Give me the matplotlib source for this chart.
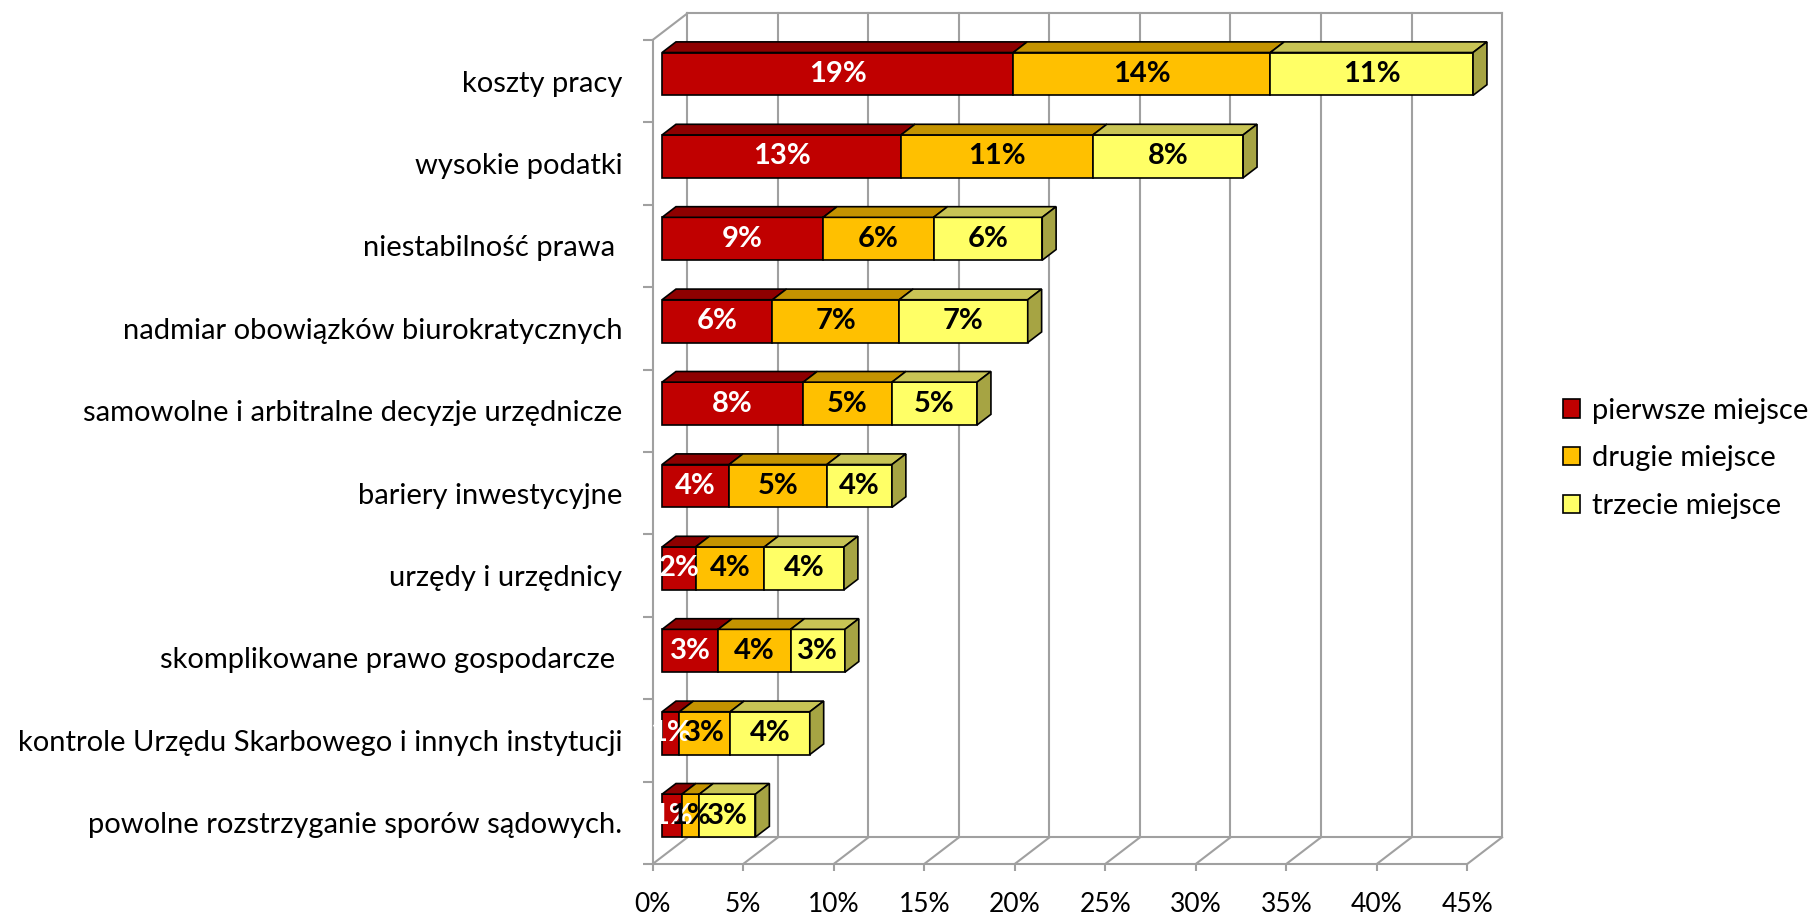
import numpy as np
import matplotlib.pyplot as plt
from matplotlib.patches import Patch

plt.rcParams['font.family'] = ['Lato', 'DejaVu Sans']

# categories from top to bottom
categories = [
    "koszty pracy",
    "wysokie podatki",
    "niestabilność prawa ",
    "nadmiar obowiązków biurokratycznych",
    "samowolne i arbitralne decyzje urzędnicze",
    "bariery inwestycyjne",
    "urzędy i urzędnicy",
    "skomplikowane prawo gospodarcze ",
    "kontrole Urzędu Skarbowego i innych instytucji",
    "powolne rozstrzyganie sporów sądowych.",
]
pierwsze = [19.4, 13.2, 8.9, 6.1, 7.8, 3.7, 1.85, 3.1, 0.96, 1.1]
drugie   = [14.2, 10.6, 6.1, 7.0, 4.9, 5.4, 3.8, 4.0, 2.8, 0.96]
trzecie  = [11.2, 8.3, 6.0, 7.1, 4.7, 3.6, 4.4, 3.0, 4.4, 3.1]
series_names = ["pierwsze miejsce", "drugie miejsce", "trzecie miejsce"]
x_ticks = [0, 5, 10, 15, 20, 25, 30, 35, 40, 45]

front_cols = ['#C00000', '#FFC000', '#FFFF66']
top_cols = ['#8E0000', '#C49300', '#C8C455']
side_col = '#A6A443'
label_cols = ['white', 'black', 'black']
grid_col = '#A0A0A0'

# oblique depth of the 3d box (in % and category units)
DX, DY = 1.92, 0.323
d1, d2 = 0.27, 0.67      # bar front / back depth fraction
half_h = 0.26

fig = plt.figure(figsize=(18.11, 9.16), dpi=100)
ax = fig.add_axes([0.3604, 0.0568, 0.4498, 0.8996])
ax.set_xlim(0, 45)
ax.set_ylim(0, 10)
n = len(categories)

# walls and floor
xmax = x_ticks[-1]
for x in x_ticks:
    ax.plot([x, x + DX], [0, DY], color=grid_col, lw=1.5, clip_on=False)
    ax.plot([x + DX, x + DX], [DY, n + DY], color=grid_col, lw=1.5, clip_on=False)
ax.plot([DX, xmax + DX], [DY, DY], color=grid_col, lw=1.5, clip_on=False)
ax.plot([DX, xmax + DX], [n + DY, n + DY], color=grid_col, lw=1.5, clip_on=False)
ax.plot([0, DX], [n, n + DY], color=grid_col, lw=1.5, clip_on=False)

# bars
data = [pierwsze, drugie, trzecie]
for i, cat in enumerate(categories):
    yc = n - i - 0.5
    left = 0.0
    for s in range(3):
        v = data[s][i]
        x0 = left + d1 * DX
        y0 = yc - half_h + d1 * DY
        y1 = yc + half_h + d1 * DY
        x1 = x0 + v
        ddx, ddy = (d2 - d1) * DX, (d2 - d1) * DY
        ax.fill([x0, x1, x1, x0], [y0, y0, y1, y1], color=front_cols[s],
                ec='black', lw=1.2, clip_on=False, zorder=3)
        ax.fill([x0, x1, x1 + ddx, x0 + ddx], [y1, y1, y1 + ddy, y1 + ddy],
                color=top_cols[s], ec='black', lw=1.2, clip_on=False, zorder=3)
        if s == 2:
            ax.fill([x1, x1 + ddx, x1 + ddx, x1], [y0, y0 + ddy, y1 + ddy, y1],
                    color=side_col, ec='black', lw=1.2, clip_on=False, zorder=3)
        ax.text((x0 + x1) / 2, yc + d1 * DY, f"{round(v):.0f}%", ha='center', va='center',
                color=label_cols[s], fontsize=21, fontweight='bold', zorder=5)
        left += v

ax.set_xticks(x_ticks, [f"{t}%" for t in x_ticks])
ax.set_yticks([n - i - 0.5 for i in range(n)], categories)
ax.set_yticks(np.arange(0, n + 1), minor=True)
ax.tick_params(axis='y', which='major', length=0, labelsize=21, pad=22)
ax.tick_params(axis='y', which='minor', length=7, color=grid_col, width=1.5)
ax.tick_params(axis='x', length=5, color=grid_col, width=1.5, labelsize=19, pad=15)
for side in ['top', 'right']:
    ax.spines[side].set_visible(False)
for side in ['left', 'bottom']:
    ax.spines[side].set_color(grid_col)
    ax.spines[side].set_linewidth(1.5)
ax.set_facecolor('none')

handles = [Patch(facecolor=c, edgecolor='black', lw=1.2) for c in front_cols]
fig.legend(handles, series_names, loc='center left', bbox_to_anchor=(0.8485, 0.4995),
           frameon=False, fontsize=21, handlelength=0.6, handleheight=0.6,
           handletextpad=0.4, labelspacing=0.75)

fig.savefig("out.png", dpi=100)
